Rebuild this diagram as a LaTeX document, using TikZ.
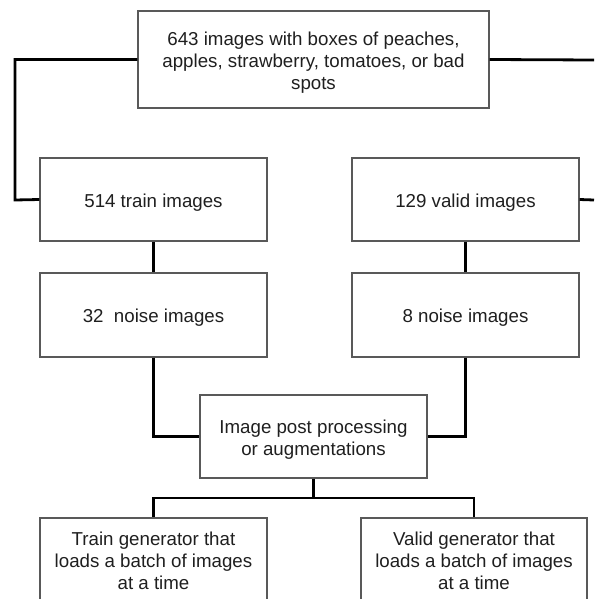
\documentclass[tikz,border=0pt]{standalone}
\usepackage{fontspec}
\setmainfont{Liberation Sans}
\begin{document}
\begin{tikzpicture}[x=1pt,y=-1pt,
  box/.style={draw=black!65, line width=1.1pt, fill=white, inner sep=0pt},
  txt/.style={text=black!88, align=center, inner sep=0pt,
    font=\fontsize{18.7}{22}\selectfont, yshift=-3pt},
  link/.style={draw=black, line width=2.8pt}]
\useasboundingbox (0,0) rectangle (594,599);
\node[box, minimum width=351pt, minimum height=97pt,
  label={[txt]center:643 images with boxes of peaches,\\apples, strawberry, tomatoes, or bad\\spots}] (top) at (313.5,59.5) {};
\node[box, minimum width=227pt, minimum height=83pt,
  label={[txt]center:514 train images}] (train) at (153.5,199.5) {};
\node[box, minimum width=227pt, minimum height=83pt,
  label={[txt]center:129 valid images}] (valid) at (465.5,199.5) {};
\node[box, minimum width=227pt, minimum height=84pt,
  label={[txt]center:32\ \ noise images}] (tnoise) at (153.5,315) {};
\node[box, minimum width=227pt, minimum height=84pt,
  label={[txt]center:8 noise images}] (vnoise) at (465.5,315) {};
\node[box, minimum width=227pt, minimum height=83pt,
  label={[txt]center:Image post processing\\or augmentations}] (post) at (313.5,436.5) {};
\node[box, minimum width=227pt, minimum height=83pt,
  label={[txt,yshift=1.5pt]center:Train generator that\\loads a batch of images\\at a time}] (tgen) at (153.5,559.5) {};
\node[box, minimum width=226pt, minimum height=83pt,
  label={[txt,yshift=1.5pt]center:Valid generator that\\loads a batch of images\\at a time}] (vgen) at (474,559.5) {};
\coordinate (redge1) at (594,60);
\coordinate (redge2) at (594,200);
\coordinate (lcorner) at (15,200);
\coordinate (split) at (313.5,498);
\draw[link] (top.west) -| (lcorner) -- (train.west);
\draw[link] (top.east) -- (redge1);
\draw[link] (valid.east) -- (redge2);
\draw[link] (train.south) -- (tnoise.north);
\draw[link] (valid.south) -- (vnoise.north);
\draw[link] (tnoise.south) |- (post.west);
\draw[link] (vnoise.south) |- (post.east);
\draw[link] (post.south) -- (split);
\draw[link] (split) -| (tgen.north);
\draw[link] (split) -| (vgen.north);
\end{tikzpicture}
\end{document}
